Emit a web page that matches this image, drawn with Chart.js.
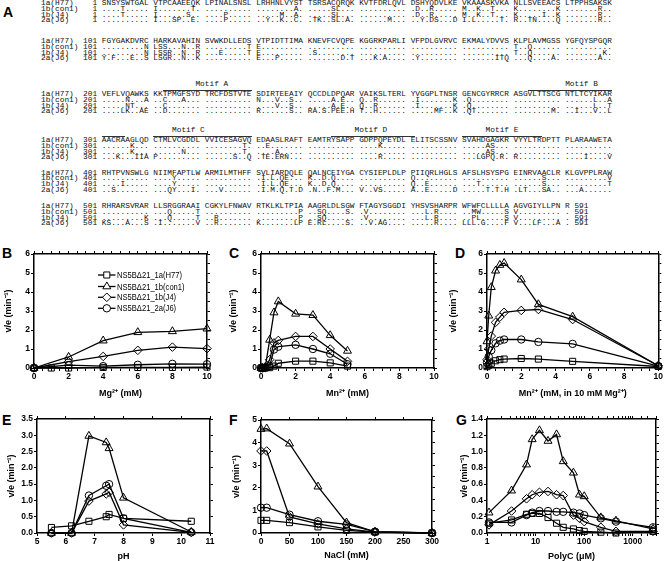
<!DOCTYPE html>
<html>
<head>
<meta charset="utf-8">
<script src="https://cdn.jsdelivr.net/npm/chart.js@4.4.0/dist/chart.umd.min.js"></script>
<style>
  body { margin: 0; background: #fff; width: 664px; height: 561px; position: relative; overflow: hidden; }
  .aln { position: absolute; font-family: "Liberation Mono", monospace; font-size: 7.8px; line-height: 1; white-space: pre; color: #111; }
  .bar { position: absolute; height: 0; border-top: 1px solid #333; }
  .lab { position: absolute; font-family: "Liberation Sans", Arial, sans-serif; font-weight: bold; font-size: 14px; line-height: 1; color: #000; }
  canvas { position: absolute; }
</style>
</head>
<body>
<div id="aln"></div>
<div class="lab" style="left:3px;top:5px">A</div>
<div class="lab" style="left:2px;top:246px">B</div>
<div class="lab" style="left:229px;top:246px">C</div>
<div class="lab" style="left:455px;top:246px">D</div>
<div class="lab" style="left:2px;top:413px">E</div>
<div class="lab" style="left:229px;top:413px">F</div>
<div class="lab" style="left:456px;top:413px">G</div>
<canvas id="chB" width="224" height="165" style="left:0px;top:240px"></canvas>
<canvas id="chC" width="220" height="165" style="left:224px;top:240px"></canvas>
<canvas id="chD" width="220" height="165" style="left:444px;top:240px"></canvas>
<canvas id="chE" width="224" height="156" style="left:0px;top:405px"></canvas>
<canvas id="chF" width="220" height="156" style="left:224px;top:405px"></canvas>
<canvas id="chG" width="220" height="156" style="left:444px;top:405px"></canvas>
<script>
// ---- panel A: alignment ----
const alnNames = ["1a(H77)", "1b(con1)", "1b(J4)", "2a(J6)"];
const alnStarts = [1, 101, 201, 301, 401, 501];
const seqH77 = [
  "SNSYSWTGAL VTPCAAEEQK LPINALSNSL LRHHNLVYST TSRSACQRQK KVTFDRLQVL DSHYQDVLKE VKAAASKVKA NLLSVEEACS LTPPHSAKSK",
  "FGYGAKDVRC HARKAVAHIN SVWKDLLEDS VTPIDTTIMA KNEVFCVQPE KGGRKPARLI VFPDLGVRVC EKMALYDVVS KLPLAVMGSS YGFQYSPGQR",
  "VEFLVQAWKS KKTPMGFSYD TRCFDSTVTE SDIRTEEAIY QCCDLDPQAR VAIKSLTERL YVGGPLTNSR GENCGYRRCR ASGVLTTSCG NTLTCYIKAR",
  "AACRAAGLQD CTMLVCGDDL VVICESAGVQ EDAASLRAFT EAMTRYSAPP GDPPQPEYDL ELITSCSSNV SVAHDGAGKR VYYLTRDPTT PLARAAWETA",
  "RHTPVNSWLG NIIMFAPTLW ARMILMTHFF SVLIARDQLE QALNCEIYGA CYSIEPLDLP PIIQRLHGLS AFSLHSYSPG EINRVAACLR KLGVPPLRAW",
  "RHRARSVRAR LLSRGGRAAI CGKYLFNWAV RTKLKLTPIA AAGRLDLSGW FTAGYSGGDI YHSVSHARPR WFWFCLLLLA AGVGIYLLPN R 591"
];
const seqCon1 = [
  "....T..... I.......T. .......... ........A. .....SL... .......... .D..R..... M..K..T... K........K .......R..",
  ".........N LSS...N..R .........T E......... .......... .......... .......... .......... T..Q...... ..........",
  ".....N...A ..C...A... .......... N...V..S.. .....A.E.. Q..R...... .I.......K .Q........ .......... ......L..A",
  "......K... .......... ........T. ..E....... .......... ....K..... .......... .....AS... .......... ..........",
  ".......... ....Y..... .......... .I.L.QE... K..D.Q.... .......... Q......... .......... ......S... .........V",
  ".......... ...Q.....T .......... .........P ..SQ....S. .V........ ...L.R.... ..MW.....S V......... . 591"
];
const seqJ4 = [
  "....T..... I......S.. ....P..... .....M..A. .....SL... .......... .D..R..... M..K..T... K.....I..K .......R..",
  ".........N LSSR..N..R ...E.....T E......... .S........ .......... .......... .......... T..Q...... ........K.",
  ".....NT... ..C....... .......... ....V..S.. .....A.E.. Q..R...... .I.......K .Q........ .......... ......L..T",
  "......K... ......N... ........T. ....A..... .......... .......... .......... .....AS... .......... ..........",
  "....I..... ....Y..... .......... .I.L.QE... K..D.Q.... .......... Q..E...... ...T...... ......S... .........T",
  ".........K ...Q.....T ..R....... .........P ..SQ...... .V........ ...L.R.... ..PL.....S V......... . 591"
];
const seqJ6 = [
  ".......... I...SP..E. ....P..... ..Y..K..C. .TK..SL.A. ......M... ..Y.DS...D I.L.....T. R..TN....Q .......R..",
  "Y.F...E..S LSGR..N..K .......... E...P..... .......D.T ...K.A.... .Y........ .......ITQ ...Q....A. .......A..",
  "....LK..AE ..D....... .......... R......S.. RA.S.PEE.H T..H...... .....MF..K .QT....... ........M. ..I...V..L",
  "...K...IIA P......... ......S..Q .TE.ERN... .......... ....R..... .......... ...LGPQ.R. R......... ....I....V",
  "..S....... ...QY...I. ...V...... .I.M.Q.T.D .N..F.M... V..VS..... A..E.....D .....T.T.H .LT...SA.. ...A......",
  "KS...A...S .I.......V ..R....... K.......LP E.RL....S. ..V.AG.... .....R.... LLL.G....F V...LF...A . 591"
];
const motifNames = ["Motif A", "Motif B", "Motif C", "Motif D", "Motif E"];
const motifFrom = [213, 284, 311, 346, 371];
const motifTo = [230, 305, 330, 361, 386];
const motifMid = [222, 294, 318, 353, 379];

// ---- panels B-G: activity curves ----
const seriesLabels = ["NS5B\u039421_1a(H77)", "NS5B\u039421_1b(con1)", "NS5B\u039421_1b(J4)", "NS5B\u039421_2a(J6)"];
const seriesMarkers = ["rect", "triangle", "rectRot", "circle"];

// B: Mg2+ (mM)
const mgXH77 = [0, 1, 2, 4, 6, 8, 10];
const mgX = [0, 2, 4, 6, 8, 10];
const mgH77 = [0, 0, 0, 0.03, 0.03, 0.03, 0.05];
const mgCon1 = [0, 0.58, 1.44, 1.88, 1.93, 2.07];
const mgJ4 = [0, 0.33, 0.61, 0.93, 1.1, 1.02];
const mgJ6 = [0, 0.15, 0.1, 0.17, 0.22, 0.2];

// C: Mn2+ (mM)
const mnX = [0, 0.1, 0.25, 0.5, 0.75, 1, 2, 3, 4, 5];
const mnH77 = [0, 0, 0, 0.02, 0.1, 0.25, 0.36, 0.36, 0.27, 0.1];
const mnCon1 = [0, 0, 0.05, 1.48, 2.92, 3.5, 2.85, 2.78, 1.72, 0.9];
const mnJ4 = [0, 0, 0.02, 0.44, 1.32, 1.45, 1.66, 1.66, 1.0, 0.35];
const mnJ6 = [0, 0, 0.02, 0.1, 0.97, 1.12, 1.22, 1.0, 0.75, 0.2];

// D: Mn2+ (mM, in 10 mM Mg2+)
const mnMgX = [0, 0.1, 0.25, 0.5, 0.75, 1, 2, 3, 5, 10];
const mnMgH77 = [0.07, 0.15, 0.25, 0.38, 0.44, 0.47, 0.5, 0.47, 0.35, 0.08];
const mnMgCon1 = [1.4, 2.75, 4.25, 5.12, 5.42, 5.52, 4.65, 3.35, 2.7, 0.12];
const mnMgJ4 = [0.44, 1.0, 1.68, 2.4, 2.68, 2.93, 3.03, 3.08, 2.55, 0.12];
const mnMgJ6 = [0.28, 0.6, 0.93, 1.3, 1.44, 1.5, 1.5, 1.37, 1.27, 0.1];

// E: pH
const phX = [5.5, 6.2, 6.8, 7.4, 7.5, 8.0, 10.35];
const phH77 = [0.17, 0.22, 0.36, 0.5, 0.57, 0.45, 0.36];
const phCon1 = [0, 0, 2.98, 2.78, 2.6, 1.08, 0.03];
const phJ4 = [0, 0, 0.98, 1.2, 1.25, 0.25, 0.02];
const phJ6 = [0, 0, 1.15, 1.45, 1.5, 0.45, 0.02];

// F: NaCl (mM)
const naclX = [0, 10, 50, 100, 150, 200, 300];
const naclH77 = [0.56, 0.56, 0.46, 0.27, 0.12, 0.04, 0];
const naclCon1 = [4.6, 4.62, 3.95, 2.05, 0.46, 0.05, 0];
const naclJ4 = [3.63, 3.63, 0.71, 0.4, 0.18, 0.04, 0];
const naclJ6 = [1.12, 1.12, 0.81, 0.52, 0.38, 0.06, 0];

// G: PolyC (uM)
const polyX = [1.1, 3.2, 6.5, 8.5, 12, 18, 27, 37, 60, 80, 100, 220, 450, 2600];
const polyH77 = [0.12, 0.16, 0.23, 0.24, 0.24, 0.19, 0.12, 0.07, 0.05, 0.03, 0.02, 0.01, 0.0, 0.02];
const polyCon1 = [0.25, 0.52, 0.84, 1.15, 1.26, 1.13, 1.21, 0.88, 0.74, 0.47, 0.45, 0.19, 0.15, 0.05];
const polyJ4 = [0.1, 0.27, 0.42, 0.47, 0.5, 0.51, 0.47, 0.46, 0.22, 0.18, 0.14, 0.07, 0.02, 0.02];
const polyJ6 = [0.13, 0.13, 0.22, 0.25, 0.27, 0.27, 0.26, 0.26, 0.25, 0.24, 0.22, 0.18, 0.14, 0.07];

// ---------------------------------------------------------------
const alnLeft = 41, alnPitch = 4.68, alnRow = 5.8;
const blockTops = [4, 42, 95, 141, 173.5, 207];

function resX(res) {
  const off = (res - 1) % 100;
  return alnLeft + (13 + off + Math.floor(off / 10)) * alnPitch;
}

function addDiv(box, cls, left, top) {
  const d = document.createElement("div");
  d.className = cls;
  d.style.left = left + "px";
  d.style.top = top + "px";
  box.appendChild(d);
  return d;
}

function drawAlignment() {
  const box = document.getElementById("aln");
  const seqs = [seqH77, seqCon1, seqJ4, seqJ6];
  alnStarts.forEach(function (start, b) {
    seqs.forEach(function (rows, r) {
      const d = addDiv(box, "aln", alnLeft, blockTops[b] + r * alnRow - 4);
      d.textContent = alnNames[r].padEnd(8) + " " + String(start).padStart(3) + " " + rows[b];
    });
  });
  motifNames.forEach(function (name, i) {
    // the overline may run on into the next block
    alnStarts.forEach(function (start, b) {
      const a = Math.max(motifFrom[i], start), z = Math.min(motifTo[i], start + 99);
      if (a > z) return;
      const x0 = resX(a), x1 = resX(z) + alnPitch;
      const bar = addDiv(box, "bar", x0, blockTops[b] - 5);
      bar.style.width = (x1 - x0) + "px";
    });
    const rowY = blockTops[Math.floor((motifMid[i] - 1) / 100)];
    const lab = addDiv(box, "aln", resX(motifMid[i]) + alnPitch / 2 - name.length * alnPitch / 2, rowY - 14);
    lab.textContent = name;
  });
}

const fam = "'Liberation Sans', Arial, sans-serif";
const tickFont = { family: fam, size: 8.5, weight: "bold" };
const titleFont = { family: fam, size: 9, weight: "bold", lineHeight: 1 };

function toPoints(xs, ys) {
  return xs.map(function (x, i) { return { x: x, y: ys[i] }; });
}

function makeSets(xs, ysList, xH77) {
  return ysList.map(function (ys, i) {
    const style = seriesMarkers[i];
    return {
      label: seriesLabels[i],
      data: toPoints(i === 0 && xH77 ? xH77 : xs, ys),
      borderColor: "#000",
      borderWidth: 1.3,
      pointStyle: style,
      pointRadius: style === "circle" ? 3.7 : style === "triangle" ? 4.6 : 4.3,
      pointBorderWidth: 1,
      pointBorderColor: "#000",
      pointBackgroundColor: "rgba(255,255,255,0)",
      clip: false
    };
  });
}

function makeAxis(o, pos, size) {
  const horiz = pos === "top" || pos === "bottom";
  const main = pos === "bottom" || pos === "left";
  const a = {
    type: horiz ? (o.xType || "linear") : "linear",
    position: pos,
    min: horiz ? o.xMin : o.yMin,
    max: horiz ? o.xMax : o.yMax,
    ticks: {
      display: main,
      autoSkip: false,
      maxRotation: 0,
      font: tickFont,
      color: "#000",
      padding: 1,
      callback: horiz ? o.xLabel : o.yLabel
    },
    grid: { drawOnChartArea: false, tickLength: 3, tickColor: "#000", tickWidth: 1 },
    border: { color: "#000", width: 1.5 },
    afterFit: function (s) { if (horiz) s.height = size; else s.width = size; }
  };
  const step = horiz ? o.xStep : (main ? o.yStep : o.yMinor);
  if (step) a.ticks.stepSize = step;
  if (main) {
    a.title = {
      display: true,
      text: horiz ? o.xTitle : "v/e (min\u207B\u00B9)",
      font: titleFont,
      color: "#000",
      padding: horiz ? { top: 0, bottom: o.xPad } : { top: o.yPad, bottom: 0 }
    };
  }
  return a;
}

const keyPlugin = {
  id: "seriesKey",
  afterDraw: function (chart) {
    const ctx = chart.ctx;
    const rows = [35, 46.5, 57.3, 68.3];
    ctx.save();
    chart.data.datasets.forEach(function (ds, i) {
      const y = rows[i];
      ctx.strokeStyle = "#000";
      ctx.lineWidth = 1.3;
      ctx.beginPath();
      ctx.moveTo(98, y);
      ctx.lineTo(115.5, y);
      ctx.stroke();
      ctx.fillStyle = "#fff";
      ctx.lineWidth = 1;
      Chart.helpers.drawPoint(ctx, { pointStyle: ds.pointStyle, radius: ds.pointRadius, rotation: 0, borderWidth: 1 }, 106.8, y);
      // narrow legend lettering
      ctx.save();
      ctx.translate(117, y + 0.5);
      ctx.scale(0.8, 1);
      ctx.fillStyle = "#000";
      ctx.font = "9.5px 'Liberation Sans', Arial, sans-serif";
      ctx.textBaseline = "middle";
      ctx.textAlign = "left";
      ctx.fillText(ds.label, 0, 0);
      ctx.restore();
    });
    ctx.restore();
  }
};

function makeChart(id, sets, o, plugins) {
  new Chart(document.getElementById(id), {
    type: "line",
    data: { datasets: sets },
    options: {
      responsive: false,
      animation: false,
      events: [],
      layout: { padding: 0 },
      plugins: { legend: { display: false }, tooltip: { enabled: false } },
      scales: {
        x: makeAxis(o, "bottom", o.m[3]),
        x2: makeAxis(o, "top", o.m[1]),
        y: makeAxis(o, "left", o.m[0]),
        y2: makeAxis(o, "right", o.m[2])
      }
    },
    plugins: plugins || []
  });
}

const everyTwo = function (v) { return v % 2 === 0 ? String(v) : ""; };
const plain = function (v) { return String(v); };
const oneDec = function (v) { return Number(v).toFixed(1); };
const decades = function (v) { return [1, 10, 100, 1000].indexOf(v) >= 0 ? String(v) : ""; };

drawAlignment();

makeChart("chB", makeSets(mgX, [mgH77, mgCon1, mgJ4, mgJ6], mgXH77), {
  m: [34, 14, 17, 37], xMin: 0, xMax: 10, xStep: 0.5, xLabel: everyTwo,
  yMin: 0, yMax: 6, yStep: 1, yMinor: 0.5, yLabel: plain,
  xTitle: "Mg\u00B2\u207A (mM)", xPad: 7, yPad: 4
}, [keyPlugin]);

makeChart("chC", makeSets(mnX, [mnH77, mnCon1, mnJ4, mnJ6]), {
  m: [37, 14, 10, 37], xMin: 0, xMax: 10, xStep: 0.5, xLabel: everyTwo,
  yMin: 0, yMax: 6, yStep: 1, yMinor: 0.5, yLabel: plain,
  xTitle: "Mn\u00B2\u207A (mM)", xPad: 7, yPad: 5
});

makeChart("chD", makeSets(mnMgX, [mnMgH77, mnMgCon1, mnMgJ4, mnMgJ6]), {
  m: [43, 14, 4.5, 37], xMin: 0, xMax: 10, xStep: 0.5, xLabel: everyTwo,
  yMin: 0, yMax: 6, yStep: 1, yMinor: 0.5, yLabel: plain,
  xTitle: "Mn\u00B2\u207A (mM, in 10 mM Mg\u00B2\u207A)", xPad: 7, yPad: 5
});

makeChart("chE", makeSets(phX, [phH77, phCon1, phJ4, phJ6]), {
  m: [37, 14, 14, 28], xMin: 5, xMax: 11, xStep: 1, xLabel: plain,
  yMin: 0, yMax: 3.5, yStep: 0.5, yMinor: 0.5, yLabel: oneDec,
  xTitle: "pH", xPad: 0, yPad: 7
});

makeChart("chF", makeSets(naclX, [naclH77, naclCon1, naclJ4, naclJ6]), {
  m: [37, 15, 12, 28], xMin: 0, xMax: 300, xStep: 50, xLabel: plain,
  yMin: 0, yMax: 5, yStep: 1, yMinor: 0.5, yLabel: plain,
  xTitle: "NaCl (mM)", xPad: 0.5, yPad: 8
});

makeChart("chG", makeSets(polyX, [polyH77, polyCon1, polyJ4, polyJ6]), {
  m: [43, 14, 8, 28], xType: "logarithmic", xMin: 1, xMax: 3000, xLabel: decades,
  yMin: 0, yMax: 1.4, yStep: 0.2, yMinor: 0.1, yLabel: oneDec,
  xTitle: "PolyC (\u03BCM)", xPad: 0, yPad: 16
});
</script>
</body>
</html>
